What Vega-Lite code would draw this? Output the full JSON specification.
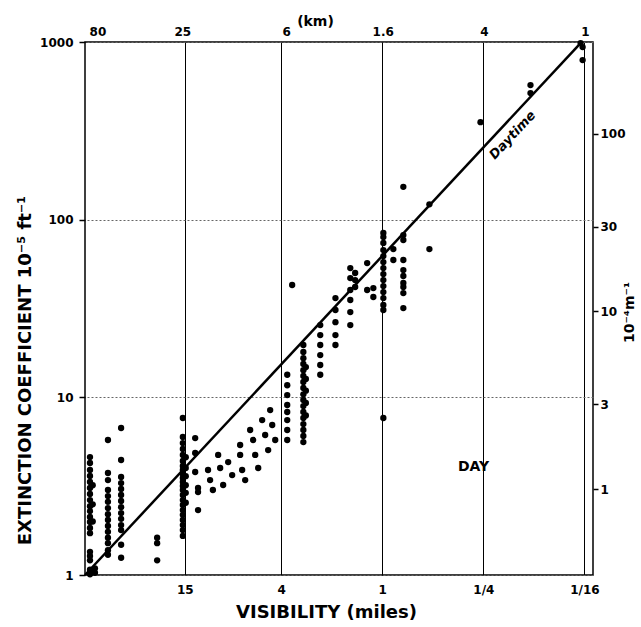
{
  "$schema": "https://vega.github.io/schema/vega-lite/v6.json",
  "width": 508,
  "height": 533,
  "autosize": {"type": "none"},
  "padding": {"left": 85, "top": 42, "right": 48, "bottom": 52},
  "background": "white",
  "config": {
    "view": {"stroke": "black", "strokeWidth": 1.5},
    "font": "DejaVu Sans",
    "axis": {
      "labelFont": "DejaVu Sans", "labelFontWeight": "bold", "labelFontSize": 12, "labelColor": "#000",
      "titleFont": "DejaVu Sans", "titleFontWeight": "bold", "titleColor": "#000",
      "labelFlush": false, "labelOverlap": false, "labelBound": false, "domain": false,
      "tickColor": "#000", "tickWidth": 1.5
    }
  },
  "datasets": {
    "obs": [
      {"v":55.0,"e":4.61},{"v":55.0,"e":4.27},{"v":55.0,"e":3.90},{"v":55.0,"e":3.61},{"v":55.0,"e":3.34},{"v":55.0,"e":3.09},{"v":55.0,"e":2.86},{"v":55.0,"e":2.64},{"v":55.0,"e":2.44},{"v":55.0,"e":2.29},{"v":55.0,"e":2.12},{"v":55.0,"e":1.99},{"v":55.0,"e":1.84},{"v":55.0,"e":1.72},{"v":55.0,"e":1.35},{"v":55.0,"e":1.28},{"v":55.0,"e":1.21},{"v":55.0,"e":1.07},{"v":55.0,"e":1.01},
      {"v":51.4,"e":1.03},{"v":51.4,"e":1.09},{"v":53.0,"e":3.20},{"v":53.0,"e":2.50},{"v":53.0,"e":2.00},
      {"v":43.0,"e":5.75},{"v":43.0,"e":3.75},{"v":43.0,"e":3.42},{"v":43.0,"e":3.01},{"v":43.0,"e":2.78},{"v":43.0,"e":2.58},{"v":43.0,"e":2.38},{"v":43.0,"e":2.20},{"v":43.0,"e":2.04},{"v":43.0,"e":1.89},{"v":43.0,"e":1.75},{"v":43.0,"e":1.62},{"v":43.0,"e":1.51},{"v":43.0,"e":1.38},{"v":43.0,"e":1.30},
      {"v":35.9,"e":6.72},{"v":35.9,"e":4.44},{"v":35.9,"e":3.56},{"v":35.9,"e":3.29},{"v":35.9,"e":3.05},{"v":35.9,"e":2.82},{"v":35.9,"e":2.61},{"v":35.9,"e":2.41},{"v":35.9,"e":2.23},{"v":35.9,"e":2.07},{"v":35.9,"e":1.91},{"v":35.9,"e":1.79},{"v":35.9,"e":1.48},{"v":35.9,"e":1.25},
      {"v":21.9,"e":1.62},{"v":21.9,"e":1.51},{"v":21.9,"e":1.21},
      {"v":15.4,"e":7.65},{"v":15.4,"e":5.98},{"v":15.4,"e":5.53},{"v":15.4,"e":5.12},{"v":15.4,"e":4.74},{"v":15.4,"e":4.38},{"v":15.4,"e":4.11},{"v":15.4,"e":3.90},{"v":15.4,"e":3.70},{"v":15.4,"e":3.52},{"v":15.4,"e":3.34},{"v":15.4,"e":3.17},{"v":15.4,"e":3.01},{"v":15.4,"e":2.82},{"v":15.4,"e":2.64},{"v":15.4,"e":2.48},{"v":15.4,"e":2.32},{"v":15.4,"e":2.18},{"v":15.4,"e":2.04},{"v":15.4,"e":1.91},{"v":15.4,"e":1.79},{"v":15.4,"e":1.66},
      {"v":14.8,"e":4.60},{"v":14.8,"e":4.00},{"v":14.8,"e":3.60},{"v":14.8,"e":3.20},{"v":14.8,"e":2.90},{"v":14.8,"e":2.55},
      {"v":13.0,"e":5.90},{"v":13.0,"e":4.86},{"v":13.0,"e":3.80},
      {"v":12.5,"e":3.09},{"v":12.5,"e":2.93},{"v":12.5,"e":2.32},
      {"v":10.9,"e":3.90},{"v":10.6,"e":3.42},{"v":10.2,"e":3.01},{"v":9.49,"e":4.74},{"v":9.23,"e":4.00},{"v":8.86,"e":3.21},{"v":8.27,"e":4.32},{"v":7.83,"e":3.65},
      {"v":7.02,"e":5.39},{"v":7.02,"e":4.74},{"v":6.83,"e":3.90},{"v":6.55,"e":3.42},{"v":6.12,"e":6.55},{"v":5.87,"e":5.75},{"v":5.71,"e":4.74},{"v":5.48,"e":4.00},
      {"v":5.19,"e":7.45},{"v":4.98,"e":6.14},{"v":4.78,"e":5.05},{"v":4.65,"e":8.48},{"v":4.52,"e":6.99},{"v":4.34,"e":5.75},
      {"v":3.68,"e":5.75},{"v":3.68,"e":6.55},{"v":3.68,"e":7.45},{"v":3.68,"e":8.27},{"v":3.68,"e":9.05},{"v":3.68,"e":10.3},{"v":3.68,"e":11.7},{"v":3.68,"e":13.4},
      {"v":3.44,"e":42.9},
      {"v":2.95,"e":19.7},{"v":2.95,"e":18.0},{"v":2.95,"e":16.6},{"v":2.95,"e":15.4},{"v":2.95,"e":14.2},{"v":2.95,"e":13.2},{"v":2.95,"e":12.2},{"v":2.95,"e":11.3},{"v":2.95,"e":10.4},{"v":2.95,"e":9.66},{"v":2.95,"e":8.93},{"v":2.95,"e":8.27},{"v":2.95,"e":7.65},{"v":2.95,"e":7.07},{"v":2.95,"e":6.55},{"v":2.95,"e":6.06},{"v":2.95,"e":5.60},
      {"v":2.85,"e":14.8},{"v":2.85,"e":12.7},{"v":2.85,"e":10.9},{"v":2.85,"e":9.30},{"v":2.85,"e":7.90},
      {"v":2.34,"e":25.5},{"v":2.34,"e":22.4},{"v":2.34,"e":19.7},{"v":2.34,"e":17.3},{"v":2.34,"e":15.2},{"v":2.34,"e":13.4},
      {"v":1.90,"e":36.2},{"v":1.90,"e":31.0},{"v":1.90,"e":26.5},{"v":1.90,"e":22.4},{"v":1.90,"e":19.7},
      {"v":1.55,"e":53.4},{"v":1.55,"e":46.9},{"v":1.55,"e":40.2},{"v":1.55,"e":35.3},{"v":1.55,"e":30.2},{"v":1.55,"e":25.5},
      {"v":1.45,"e":50.1},{"v":1.45,"e":45.7},{"v":1.45,"e":41.8},
      {"v":1.23,"e":57.0},{"v":1.23,"e":40.2},{"v":1.13,"e":41.2},{"v":1.13,"e":36.7},
      {"v":0.985,"e":84.1},{"v":0.985,"e":79.8},{"v":0.985,"e":73.9},{"v":0.985,"e":67.4},{"v":0.985,"e":62.4},{"v":0.985,"e":57.7},{"v":0.985,"e":53.4},{"v":0.985,"e":49.4},{"v":0.985,"e":45.7},{"v":0.985,"e":42.3},{"v":0.985,"e":39.1},{"v":0.985,"e":36.2},{"v":0.985,"e":33.1},{"v":0.985,"e":31.0},{"v":0.985,"e":7.65},
      {"v":0.859,"e":68.3},{"v":0.859,"e":59.3},
      {"v":0.749,"e":153},{"v":0.749,"e":81.9},{"v":0.749,"e":76.8},{"v":0.749,"e":59.3},{"v":0.749,"e":52.0},{"v":0.749,"e":48.2},{"v":0.749,"e":44.0},{"v":0.749,"e":41.8},{"v":0.749,"e":38.6},{"v":0.749,"e":31.8},
      {"v":0.524,"e":122},{"v":0.524,"e":68.3},
      {"v":0.260,"e":354},
      {"v":0.131,"e":572},{"v":0.131,"e":516},
      {"v":0.0641,"e":936},{"v":0.0641,"e":791},{"v":0.0659,"e":986}
    ],
    "fit": [{"v":58.9,"e":1},{"v":0.0659,"e":986}]
  },
  "layer": [
    {
      "data": {"name": "obs"},
      "mark": {"type": "circle", "color": "#000", "opacity": 1, "size": 40},
      "encoding": {
        "x": {"field": "v", "type": "quantitative",
          "scale": {"type": "log", "domain": [0.0556, 58.9], "reverse": true, "nice": false},
          "axis": {"orient": "bottom", "values": [15, 4, 1, 0.25, 0.0625],
            "labelExpr": "datum.value >= 1 ? format(datum.value, 'd') : (datum.value > 0.2 ? '1/4' : '1/16')",
            "grid": true, "gridColor": "#000", "gridWidth": 1, "gridOpacity": 1,
            "ticks": false, "labelPadding": 9,
            "title": "VISIBILITY  (miles)", "titleFontSize": 18, "titleX": 241, "titleY": 37,
            "titleBaseline": "middle", "titleAlign": "center"}},
        "y": {"field": "e", "type": "quantitative",
          "scale": {"type": "log", "domain": [1, 1000], "nice": false},
          "axis": {"orient": "left", "values": [1, 10, 100, 1000], "format": "d",
            "grid": true, "gridColor": "#666", "gridDash": [2, 2], "gridWidth": 1, "gridOpacity": 1,
            "tickSize": 6, "labelPadding": 6,
            "title": "EXTINCTION COEFFICIENT  10⁻⁵ ft⁻¹", "titleFontSize": 18, "titleAngle": 270,
            "titleX": -60, "titleY": 328, "titleBaseline": "middle", "titleAlign": "center"}}
      }
    },
    {
      "data": {"name": "fit"},
      "mark": {"type": "line", "color": "#000", "strokeWidth": 2.5},
      "encoding": {
        "x": {"field": "v", "type": "quantitative",
          "scale": {"type": "log", "domain": [0.0556, 58.9], "reverse": true, "nice": false},
          "axis": {"orient": "top", "values": [49.7, 15.53, 3.728, 0.9942, 0.2485, 0.06214],
            "labelExpr": "datum.value > 40 ? '80' : datum.value > 10 ? '25' : datum.value > 2 ? '6' : datum.value > 0.5 ? '1.6' : datum.value > 0.1 ? '4' : '1'",
            "grid": false, "ticks": false, "labelPadding": 4,
            "title": "(km)", "titleFontSize": 14, "titleX": 230, "titleY": -21,
            "titleBaseline": "middle", "titleAlign": "center"}},
        "y": {"field": "e", "type": "quantitative",
          "scale": {"type": "log", "domain": [1, 1000], "nice": false},
          "axis": {"orient": "right", "values": [304.8, 91.44, 30.48, 9.144, 3.048],
            "labelExpr": "datum.value > 200 ? '100' : datum.value > 50 ? '30' : datum.value > 20 ? '10' : datum.value > 5 ? '3' : '1'",
            "grid": false, "tickSize": 5, "labelPadding": 2,
            "title": "10⁻⁴m⁻¹", "titleFontSize": 14, "titleAngle": 270,
            "titleX": 36, "titleY": 270, "titleBaseline": "middle", "titleAlign": "center"}}
      }
    },
    {
      "data": {"values": [{"v": 0.1675, "e": 299, "t": "Daytime"}]},
      "mark": {"type": "text", "angle": -47, "fontWeight": "bold", "fontStyle": "italic", "fontSize": 13, "color": "#000", "font": "DejaVu Sans"},
      "encoding": {
        "x": {"field": "v", "type": "quantitative", "scale": {"type": "log", "domain": [0.0556, 58.9], "reverse": true, "nice": false}, "axis": null},
        "y": {"field": "e", "type": "quantitative", "scale": {"type": "log", "domain": [1, 1000], "nice": false}, "axis": null},
        "text": {"field": "t"}
      }
    },
    {
      "data": {"values": [{"v": 0.286, "e": 4.05, "t": "DAY"}]},
      "mark": {"type": "text", "fontWeight": "bold", "fontSize": 14, "color": "#000", "font": "DejaVu Sans"},
      "encoding": {
        "x": {"field": "v", "type": "quantitative", "scale": {"type": "log", "domain": [0.0556, 58.9], "reverse": true, "nice": false}, "axis": null},
        "y": {"field": "e", "type": "quantitative", "scale": {"type": "log", "domain": [1, 1000], "nice": false}, "axis": null},
        "text": {"field": "t"}
      }
    }
  ],
  "resolve": {"axis": {"x": "independent", "y": "independent"}}
}
